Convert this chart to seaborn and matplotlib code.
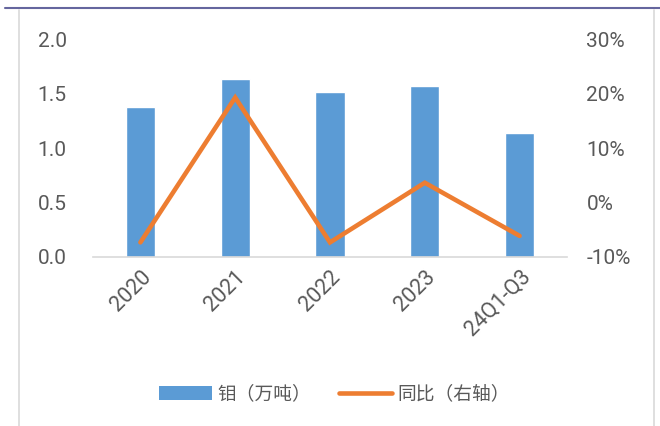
import pandas as pd
import matplotlib.pyplot as plt
import matplotlib.ticker as ticker
from matplotlib.lines import Line2D
from matplotlib.patches import Patch
import seaborn as sns

# data
periods = ["2020", "2021", "2022", "2023", "24Q1-Q3"]
output = [1.38, 1.64, 1.52, 1.57, 1.14]      # 钼 (万吨)
yoy = [-7.4, 19.3, -7.4, 3.6, -6.2]          # 同比 (%)

bar_color = "#5B9BD5"
line_color = "#ED7D31"
text_color = "#595959"

sns.set_style("white")
plt.rcParams['font.family'] = ['Roboto', 'Noto Sans CJK SC', 'DejaVu Sans']

df = pd.DataFrame({"period": periods, "output": output, "yoy": yoy})

fig = plt.figure(figsize=(6.6, 4.26), dpi=100)
ax = fig.add_axes([93 / 660, 1 - 256.5 / 426, 474 / 660, 217 / 426])
ax2 = ax.twinx()

sns.barplot(data=df, x="period", y="output", color=bar_color, width=0.31,
            saturation=1, ax=ax)
sns.lineplot(data=df, x="period", y="yoy", color=line_color, linewidth=3.3,
             sort=False, ax=ax2, solid_capstyle="round", solid_joinstyle="miter")

ax.set_xlim(-0.5, 4.5)
ax.set_ylim(0, 2.0)
ax.yaxis.set_major_locator(ticker.MultipleLocator(0.5))
ax.yaxis.set_major_formatter(ticker.FormatStrFormatter("%.1f"))
ax2.set_ylim(-10, 30)
ax2.yaxis.set_major_locator(ticker.MultipleLocator(10))
ax2.yaxis.set_major_formatter(ticker.FuncFormatter(lambda v, p: f"{v:.0f}%"))

for a in (ax, ax2):
    for s in a.spines.values():
        s.set_visible(False)
    a.set_xlabel("")
    a.set_ylabel("")
ax.spines["bottom"].set_visible(True)
ax.spines["bottom"].set_color("#D9D9D9")
ax.spines["bottom"].set_linewidth(1.2)

ax.tick_params(axis="y", length=0, pad=19, labelsize=15, labelcolor=text_color)
ax2.tick_params(axis="y", length=0, pad=14, labelsize=15, labelcolor=text_color)
ax.tick_params(axis="x", length=0, pad=7, labelsize=15.5, labelcolor=text_color)
ax2.tick_params(axis="x", length=0)
for lab in ax.get_xticklabels():
    lab.set_rotation(45)
    lab.set_ha("right")
    lab.set_rotation_mode("anchor")
for lab in ax2.get_yticklabels():
    lab.set_ha("left")

handles = [Patch(facecolor=bar_color, edgecolor="none", label="钼（万吨）"),
           Line2D([], [], color=line_color, linewidth=3.3, solid_capstyle="round",
                  label="同比（右轴）")]
fig.legend(handles=handles, loc="center", bbox_to_anchor=(0.507, 0.075), ncol=2,
           frameon=False, labelcolor=text_color, handlelength=2.8,
           handletextpad=0.3, columnspacing=1.5,
           prop={'family': ['Noto Sans CJK SC', 'DejaVu Sans'], 'size': 13.5})

# outer frame and top rule
fig.add_artist(plt.Line2D([19 / 660, 19 / 660], [0, 1 - 10 / 426], color="#D9D9D9", lw=1.2))
fig.add_artist(plt.Line2D([654 / 660, 654 / 660], [0, 1 - 10 / 426], color="#D9D9D9", lw=1.2))
fig.add_artist(plt.Line2D([5 / 660, 1], [1 - 8 / 426, 1 - 8 / 426], color="#65669E", lw=1.5))

plt.savefig("out.png", dpi=100)
